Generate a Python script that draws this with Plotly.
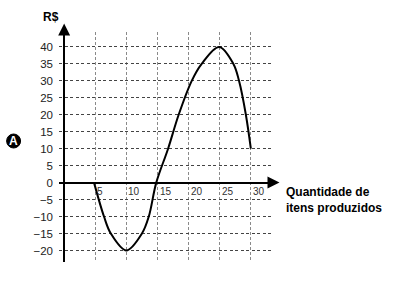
import plotly.graph_objects as go

# Curve (Quantidade de itens produzidos vs R$)
curve_x = [4.8, 6.4, 7.5, 10.0, 12.5, 13.6, 14.8, 16.7, 18.4, 20.5, 22.1, 24.9, 27.2, 28.1, 29.2, 30.0]
curve_y = [0, -10, -15, -20, -15, -10, 0, 10, 20, 30, 35, 40, 35, 30, 20, 10]

y_ticks = [-20, -15, -10, -5, 0, 5, 10, 15, 20, 25, 30, 35, 40]
x_ticks = [5, 10, 15, 20, 25, 30]
x_tick_labels = ["5", "10", "15", "20", "25", "30"]

y_title = "R$"
x_title = "Quantidade de<br>itens produzidos"
badge = "A"

X_RANGE = [-0.83, 33.4]
Y_RANGE = [-23.4, 44.4]

plot_l, plot_r, plot_t, plot_b = 58.5, 272, 32, 262


def px_to_paper(px, py):
    return (px - plot_l) / (plot_r - plot_l), (plot_b - py) / (plot_b - plot_t)


fig = go.Figure()
fig.add_trace(go.Scatter(
    x=curve_x, y=curve_y, mode="lines",
    line=dict(color="black", width=2, shape="spline", smoothing=1.0),
    hoverinfo="skip", showlegend=False,
))

fig.update_layout(
    width=400, height=288,
    margin=dict(l=plot_l, r=400 - plot_r, t=plot_t, b=288 - plot_b),
    paper_bgcolor="white", plot_bgcolor="rgba(0,0,0,0)",
    font=dict(family="Liberation Sans, Arial, sans-serif", color="#222"),
    showlegend=False,
)

fig.update_xaxes(
    range=X_RANGE, tickvals=x_ticks, showticklabels=False, ticks="",
    showgrid=True, gridcolor="#8a8a8a", gridwidth=1, griddash="3px,2px",
    zeroline=True, zerolinecolor="black", zerolinewidth=1.6,
    showline=False, fixedrange=True,
)
fig.update_yaxes(
    range=Y_RANGE, tickvals=y_ticks, ticks="",
    tickfont=dict(size=11.5, color="#222"), ticklabelstandoff=5,
    showgrid=True, gridcolor="#444", gridwidth=1, griddash="3px,2.5px",
    zeroline=True, zerolinecolor="black", zerolinewidth=1.6,
    showline=False, fixedrange=True,
)

annotations = []
# axis arrows
annotations.append(dict(x=0, y=46.9, ax=0, ay=Y_RANGE[1] - 1, xref="x", yref="y",
                        axref="x", ayref="y", text="", showarrow=True,
                        arrowhead=2, arrowsize=1.5, arrowwidth=1.6, arrowcolor="black"))
annotations.append(dict(x=34.6, y=0, ax=X_RANGE[1] - 0.5, ay=0, xref="x", yref="y",
                        axref="x", ayref="y", text="", showarrow=True,
                        arrowhead=2, arrowsize=1.5, arrowwidth=1.6, arrowcolor="black"))
# x tick labels next to the grid lines, just below the axis
for xv, lab in zip(x_ticks, x_tick_labels):
    annotations.append(dict(x=xv, y=0, xref="x", yref="y", text=lab, showarrow=False,
                            xanchor="left", yanchor="top", xshift=0, yshift=-1,
                            font=dict(size=10, color="#333")))
# titles
rx, ry = px_to_paper(50, 17)
annotations.append(dict(x=rx, y=ry, xref="paper", yref="paper", text="<b>" + y_title + "</b>",
                        showarrow=False, xanchor="center", yanchor="middle",
                        font=dict(size=12, color="black")))
qx, qy = px_to_paper(284, 199.5)
annotations.append(dict(x=qx, y=qy, xref="paper", yref="paper",
                        text="<b>" + x_title + "</b>", showarrow=False,
                        xanchor="left", yanchor="middle", align="left",
                        font=dict(size=12, color="black")))
bx, by = px_to_paper(13, 141.2)
annotations.append(dict(x=bx, y=by, xref="paper", yref="paper",
                        text="<b>" + badge + "</b>", showarrow=False,
                        xanchor="center", yanchor="middle",
                        font=dict(size=12, color="white")))
fig.update_layout(annotations=annotations)

cx0, cy0 = px_to_paper(6, 148)
cx1, cy1 = px_to_paper(20, 134)
fig.add_shape(type="circle", xref="paper", yref="paper", x0=cx0, y0=cy0, x1=cx1, y1=cy1,
              fillcolor="black", line=dict(color="black", width=1), layer="above")

fig.write_html("out.html")
